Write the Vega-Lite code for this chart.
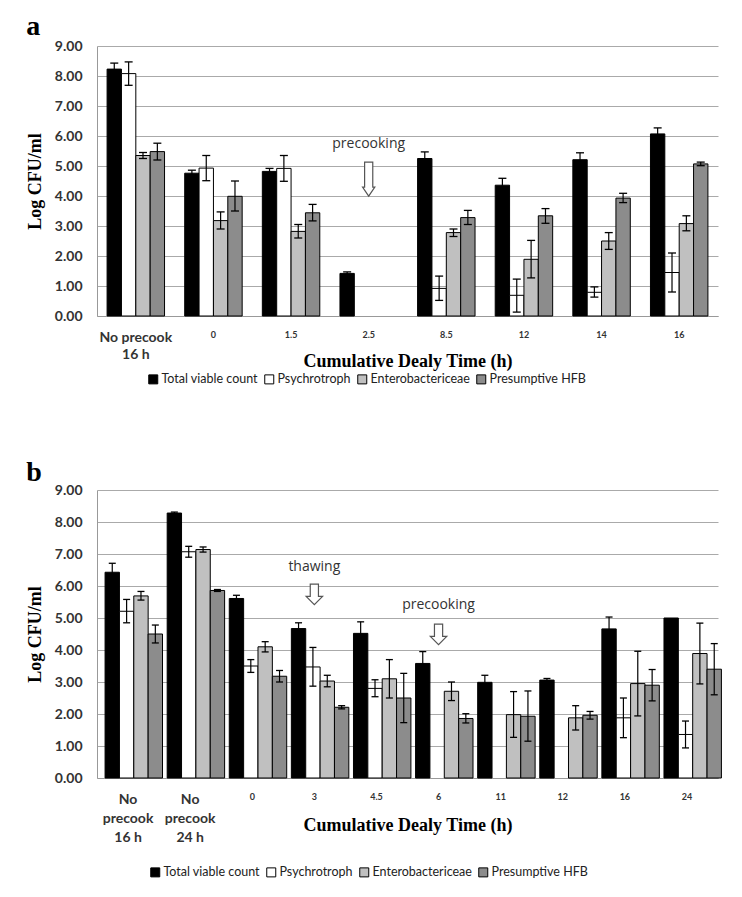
{
  "$schema": "https://vega.github.io/schema/vega-lite/v6.json",
  "background": "white",
  "padding": {"left": 26, "top": 13, "right": 5, "bottom": 5},
  "datasets": {
    "da": [
      {"t":"No precook\n16 h","s":"Total viable count","v":8.23,"lo":8.03,"hi":8.43},
      {"t":"No precook\n16 h","s":"Psychrotroph","v":8.08,"lo":7.69,"hi":8.47},
      {"t":"No precook\n16 h","s":"Enterobactericeae","v":5.35,"lo":5.25,"hi":5.45},
      {"t":"No precook\n16 h","s":"Presumptive HFB","v":5.48,"lo":5.2,"hi":5.76},
      {"t":"0","s":"Total viable count","v":4.76,"lo":4.66,"hi":4.86},
      {"t":"0","s":"Psychrotroph","v":4.93,"lo":4.51,"hi":5.35},
      {"t":"0","s":"Enterobactericeae","v":3.18,"lo":2.9,"hi":3.47},
      {"t":"0","s":"Presumptive HFB","v":3.99,"lo":3.5,"hi":4.5},
      {"t":"1.5","s":"Total viable count","v":4.82,"lo":4.72,"hi":4.92},
      {"t":"1.5","s":"Psychrotroph","v":4.92,"lo":4.49,"hi":5.35},
      {"t":"1.5","s":"Enterobactericeae","v":2.82,"lo":2.6,"hi":3.05},
      {"t":"1.5","s":"Presumptive HFB","v":3.44,"lo":3.17,"hi":3.72},
      {"t":"2.5","s":"Total viable count","v":1.42,"lo":1.37,"hi":1.47},
      {"t":"8.5","s":"Total viable count","v":5.25,"lo":5.03,"hi":5.47},
      {"t":"8.5","s":"Psychrotroph","v":0.92,"lo":0.52,"hi":1.33},
      {"t":"8.5","s":"Enterobactericeae","v":2.78,"lo":2.65,"hi":2.9},
      {"t":"8.5","s":"Presumptive HFB","v":3.28,"lo":3.05,"hi":3.52},
      {"t":"12","s":"Total viable count","v":4.36,"lo":4.13,"hi":4.59},
      {"t":"12","s":"Psychrotroph","v":0.69,"lo":0.13,"hi":1.23},
      {"t":"12","s":"Enterobactericeae","v":1.89,"lo":1.27,"hi":2.52},
      {"t":"12","s":"Presumptive HFB","v":3.34,"lo":3.09,"hi":3.58},
      {"t":"14","s":"Total viable count","v":5.21,"lo":4.99,"hi":5.44},
      {"t":"14","s":"Psychrotroph","v":0.79,"lo":0.63,"hi":0.97},
      {"t":"14","s":"Enterobactericeae","v":2.5,"lo":2.22,"hi":2.78},
      {"t":"14","s":"Presumptive HFB","v":3.93,"lo":3.78,"hi":4.09},
      {"t":"16","s":"Total viable count","v":6.07,"lo":5.87,"hi":6.27},
      {"t":"16","s":"Psychrotroph","v":1.45,"lo":0.8,"hi":2.1},
      {"t":"16","s":"Enterobactericeae","v":3.08,"lo":2.84,"hi":3.34},
      {"t":"16","s":"Presumptive HFB","v":5.07,"lo":5.01,"hi":5.13}
    ],
    "db": [
      {"t":"No\nprecook\n16 h","s":"Total viable count","v":6.43,"lo":6.15,"hi":6.71},
      {"t":"No\nprecook\n16 h","s":"Psychrotroph","v":5.21,"lo":4.85,"hi":5.58},
      {"t":"No\nprecook\n16 h","s":"Enterobactericeae","v":5.69,"lo":5.56,"hi":5.83},
      {"t":"No\nprecook\n16 h","s":"Presumptive HFB","v":4.5,"lo":4.22,"hi":4.78},
      {"t":"No\nprecook\n24 h","s":"Total viable count","v":8.28,"lo":8.25,"hi":8.31},
      {"t":"No\nprecook\n24 h","s":"Psychrotroph","v":7.07,"lo":6.9,"hi":7.24},
      {"t":"No\nprecook\n24 h","s":"Enterobactericeae","v":7.14,"lo":7.06,"hi":7.22},
      {"t":"No\nprecook\n24 h","s":"Presumptive HFB","v":5.86,"lo":5.83,"hi":5.89},
      {"t":"0","s":"Total viable count","v":5.61,"lo":5.51,"hi":5.71},
      {"t":"0","s":"Psychrotroph","v":3.5,"lo":3.3,"hi":3.7},
      {"t":"0","s":"Enterobactericeae","v":4.1,"lo":3.94,"hi":4.26},
      {"t":"0","s":"Presumptive HFB","v":3.18,"lo":3.0,"hi":3.36},
      {"t":"3","s":"Total viable count","v":4.67,"lo":4.49,"hi":4.85},
      {"t":"3","s":"Psychrotroph","v":3.47,"lo":2.87,"hi":4.08},
      {"t":"3","s":"Enterobactericeae","v":3.03,"lo":2.85,"hi":3.21},
      {"t":"3","s":"Presumptive HFB","v":2.21,"lo":2.16,"hi":2.26},
      {"t":"4.5","s":"Total viable count","v":4.52,"lo":4.16,"hi":4.88},
      {"t":"4.5","s":"Psychrotroph","v":2.8,"lo":2.54,"hi":3.07},
      {"t":"4.5","s":"Enterobactericeae","v":3.1,"lo":2.5,"hi":3.7},
      {"t":"4.5","s":"Presumptive HFB","v":2.5,"lo":1.73,"hi":3.27},
      {"t":"6","s":"Total viable count","v":3.58,"lo":3.21,"hi":3.95},
      {"t":"6","s":"Enterobactericeae","v":2.71,"lo":2.42,"hi":3.0},
      {"t":"6","s":"Presumptive HFB","v":1.86,"lo":1.72,"hi":2.01},
      {"t":"11","s":"Total viable count","v":2.99,"lo":2.77,"hi":3.21},
      {"t":"11","s":"Enterobactericeae","v":1.98,"lo":1.27,"hi":2.7},
      {"t":"11","s":"Presumptive HFB","v":1.93,"lo":1.15,"hi":2.72},
      {"t":"12","s":"Total viable count","v":3.06,"lo":3.01,"hi":3.11},
      {"t":"12","s":"Enterobactericeae","v":1.88,"lo":1.5,"hi":2.26},
      {"t":"12","s":"Presumptive HFB","v":1.96,"lo":1.84,"hi":2.08},
      {"t":"16","s":"Total viable count","v":4.66,"lo":4.29,"hi":5.03},
      {"t":"16","s":"Psychrotroph","v":1.88,"lo":1.26,"hi":2.5},
      {"t":"16","s":"Enterobactericeae","v":2.95,"lo":1.94,"hi":3.96},
      {"t":"16","s":"Presumptive HFB","v":2.9,"lo":2.41,"hi":3.39},
      {"t":"24","s":"Total viable count","v":5.0,"lo":null,"hi":null},
      {"t":"24","s":"Psychrotroph","v":1.36,"lo":0.94,"hi":1.78},
      {"t":"24","s":"Enterobactericeae","v":3.89,"lo":2.94,"hi":4.84},
      {"t":"24","s":"Presumptive HFB","v":3.4,"lo":2.6,"hi":4.2}
    ],
    "annA": [
      {"t":"2.5","label":"precooking","ty":5.72,"ay":4.56}
    ],
    "annB": [
      {"t":"3","label":"thawing","ty":6.6,"ay":5.74},
      {"t":"6","label":"precooking","ty":5.4,"ay":4.49}
    ]
  },
  "vconcat": [
    {
      "title": {"text": "a", "anchor": "start", "frame": "bounds", "font": "Liberation Serif", "fontSize": 28, "fontWeight": "bold", "color": "#000", "offset": -2},
      "width": 621,
      "height": 270,
      "layer": [
        {"data": {"name": "da"}, "mark": {"type": "bar", "stroke": "#000", "strokeWidth": 1},
          "encoding": {
            "x": {"field": "t", "type": "nominal", "title": "Cumulative Dealy Time (h)",
              "scale": {"domain": ["No precook\n16 h","0","1.5","2.5","8.5","12","14","16"], "paddingInner": 0.26, "paddingOuter": 0.13},
              "axis": {"labelExpr": "indexof(datum.label, 'No') == 0 ? '' : datum.label", "titlePadding": 13}},
            "xOffset": {"field": "s", "type": "nominal", "scale": {"domain": ["Total viable count","Psychrotroph","Enterobactericeae","Presumptive HFB"]}},
            "y": {"field": "v", "type": "quantitative", "title": "Log CFU/ml", "scale": {"domain": [0, 9], "nice": false},
              "axis": {"tickCount": 9, "format": ".2f"}},
            "fill": {"field": "s", "type": "nominal", "scale": {"domain": ["Total viable count","Psychrotroph","Enterobactericeae","Presumptive HFB"], "range": ["#000", "#fff", "#c0c0c0", "#8c8c8c"]},
              "legend": {"orient": "bottom", "direction": "horizontal", "title": " ", "titleOrient": "left", "titlePadding": 50, "offset": 3}}
          }},
        {"data": {"name": "da"}, "transform": [{"filter": "isValid(datum.lo)"}], "mark": {"type": "rule", "color": "#000", "strokeWidth": 1.2},
          "encoding": {
            "x": {"field": "t", "type": "nominal"},
            "xOffset": {"field": "s", "type": "nominal"},
            "y": {"field": "lo", "type": "quantitative"},
            "y2": {"field": "hi"}
          }},
        {"data": {"name": "da"}, "transform": [{"filter": "isValid(datum.lo)"}], "mark": {"type": "point", "shape": "stroke", "size": 64, "filled": false, "color": "#000", "strokeWidth": 1.3, "opacity": 1},
          "encoding": {
            "x": {"field": "t", "type": "nominal"},
            "xOffset": {"field": "s", "type": "nominal"},
            "y": {"field": "lo", "type": "quantitative"}
          }},
        {"data": {"name": "da"}, "transform": [{"filter": "isValid(datum.hi)"}], "mark": {"type": "point", "shape": "stroke", "size": 64, "filled": false, "color": "#000", "strokeWidth": 1.3, "opacity": 1},
          "encoding": {
            "x": {"field": "t", "type": "nominal"},
            "xOffset": {"field": "s", "type": "nominal"},
            "y": {"field": "hi", "type": "quantitative"}
          }},
        {"data": {"name": "da"}, "transform": [{"filter": "datum.s == 'Total viable count' && indexof(datum.t, 'No') == 0"}],
          "mark": {"type": "text", "font": "Lato", "fontSize": 14, "fontWeight": "bold", "color": "#333", "baseline": "top", "lineBreak": "\n", "lineHeight": 17},
          "encoding": {
            "x": {"field": "t", "type": "nominal"},
            "y": {"datum": -0.5, "type": "quantitative"},
            "text": {"field": "t"}
          }},
        {"data": {"name": "annA"}, "mark": {"type": "text", "font": "Open Sans", "fontSize": 14, "color": "#333"},
          "encoding": {
            "x": {"field": "t", "type": "nominal"},
            "y": {"field": "ty", "type": "quantitative"},
            "text": {"field": "label"}
          }},
        {"data": {"name": "annA"}, "mark": {"type": "point", "shape": "M-0.24,-1L0.24,-1L0.24,0.47L0.36,0.47L0,1L-0.36,0.47L-0.24,0.47Z", "size": 1156, "filled": true, "fill": "#fff", "stroke": "#555", "strokeWidth": 1.2, "opacity": 1},
          "encoding": {
            "x": {"field": "t", "type": "nominal"},
            "y": {"field": "ay", "type": "quantitative"}
          }}
      ]
    },
    {
      "title": {"text": "b", "anchor": "start", "frame": "bounds", "font": "Liberation Serif", "fontSize": 28, "fontWeight": "bold", "color": "#000", "offset": -4},
      "width": 621,
      "height": 288,
      "layer": [
        {"data": {"name": "db"}, "mark": {"type": "bar", "stroke": "#000", "strokeWidth": 1},
          "encoding": {
            "x": {"field": "t", "type": "nominal", "title": "Cumulative Dealy Time (h)",
              "scale": {"domain": ["No\nprecook\n16 h","No\nprecook\n24 h","0","3","4.5","6","11","12","16","24"], "paddingInner": 0.26, "paddingOuter": 0.13},
              "axis": {"labelExpr": "indexof(datum.label, 'No') == 0 ? '' : datum.label", "titlePadding": 15}},
            "xOffset": {"field": "s", "type": "nominal", "scale": {"domain": ["Total viable count","Psychrotroph","Enterobactericeae","Presumptive HFB"]}},
            "y": {"field": "v", "type": "quantitative", "title": "Log CFU/ml", "scale": {"domain": [0, 9], "nice": false},
              "axis": {"tickCount": 9, "format": ".2f"}},
            "fill": {"field": "s", "type": "nominal", "scale": {"domain": ["Total viable count","Psychrotroph","Enterobactericeae","Presumptive HFB"], "range": ["#000", "#fff", "#c0c0c0", "#8c8c8c"]},
              "legend": {"orient": "bottom", "direction": "horizontal", "title": " ", "titleOrient": "left", "titlePadding": 52, "offset": 32}}
          }},
        {"data": {"name": "db"}, "transform": [{"filter": "isValid(datum.lo)"}], "mark": {"type": "rule", "color": "#000", "strokeWidth": 1.2},
          "encoding": {
            "x": {"field": "t", "type": "nominal"},
            "xOffset": {"field": "s", "type": "nominal"},
            "y": {"field": "lo", "type": "quantitative"},
            "y2": {"field": "hi"}
          }},
        {"data": {"name": "db"}, "transform": [{"filter": "isValid(datum.lo)"}], "mark": {"type": "point", "shape": "stroke", "size": 49, "filled": false, "color": "#000", "strokeWidth": 1.3, "opacity": 1},
          "encoding": {
            "x": {"field": "t", "type": "nominal"},
            "xOffset": {"field": "s", "type": "nominal"},
            "y": {"field": "lo", "type": "quantitative"}
          }},
        {"data": {"name": "db"}, "transform": [{"filter": "isValid(datum.hi)"}], "mark": {"type": "point", "shape": "stroke", "size": 49, "filled": false, "color": "#000", "strokeWidth": 1.3, "opacity": 1},
          "encoding": {
            "x": {"field": "t", "type": "nominal"},
            "xOffset": {"field": "s", "type": "nominal"},
            "y": {"field": "hi", "type": "quantitative"}
          }},
        {"data": {"name": "db"}, "transform": [{"filter": "datum.s == 'Total viable count' && indexof(datum.t, 'No') == 0"}],
          "mark": {"type": "text", "font": "Lato", "fontSize": 14, "fontWeight": "bold", "color": "#333", "baseline": "top", "lineBreak": "\n", "lineHeight": 19},
          "encoding": {
            "x": {"field": "t", "type": "nominal"},
            "y": {"datum": -0.47, "type": "quantitative"},
            "text": {"field": "t"}
          }},
        {"data": {"name": "annB"}, "mark": {"type": "text", "font": "Open Sans", "fontSize": 14, "color": "#333"},
          "encoding": {
            "x": {"field": "t", "type": "nominal"},
            "y": {"field": "ty", "type": "quantitative"},
            "text": {"field": "label"}
          }},
        {"data": {"name": "annB"}, "mark": {"type": "point", "shape": "M-0.4,-1L0.4,-1L0.4,0.2L0.8,0.2L0,1L-0.8,0.2L-0.4,0.2Z", "size": 420, "filled": true, "fill": "#fff", "stroke": "#555", "strokeWidth": 1.2, "opacity": 1},
          "encoding": {
            "x": {"field": "t", "type": "nominal"},
            "y": {"field": "ay", "type": "quantitative"}
          }}
      ]
    }
  ],
  "spacing": 73,
  "resolve": {"scale": {"fill": "independent"}, "legend": {"fill": "independent"}},
  "config": {
    "view": {"stroke": null},
    "font": "Lato",
    "axisX": {
      "labelAngle": 0, "labelFont": "Lato", "labelFontWeight": "bold", "labelFontSize": 9,
      "labelColor": "#333", "labelPadding": 14, "ticks": false,
      "domainColor": "#999",
      "titleFont": "Liberation Serif", "titleFontSize": 18, "titleFontWeight": "bold", "titleColor": "#000",
      "grid": false
    },
    "axisY": {
      "tickCount": 9,
      "labelFont": "Lato", "labelFontWeight": "bold", "labelFontSize": 14, "labelColor": "#333", "labelPadding": 15,
      "ticks": false, "domainColor": "#999", "grid": true, "gridColor": "#aaa",
      "titleFont": "Liberation Serif", "titleFontSize": 18, "titleFontWeight": "bold", "titleColor": "#000", "titlePadding": 10
    },
    "legend": {
      "symbolType": "square", "symbolSize": 81, "symbolStrokeColor": "#000", "symbolStrokeWidth": 1,
      "labelFont": "Lato", "labelFontSize": 12.5, "labelColor": "#222", "columnPadding": 4, "labelOffset": 2
    }
  }
}
